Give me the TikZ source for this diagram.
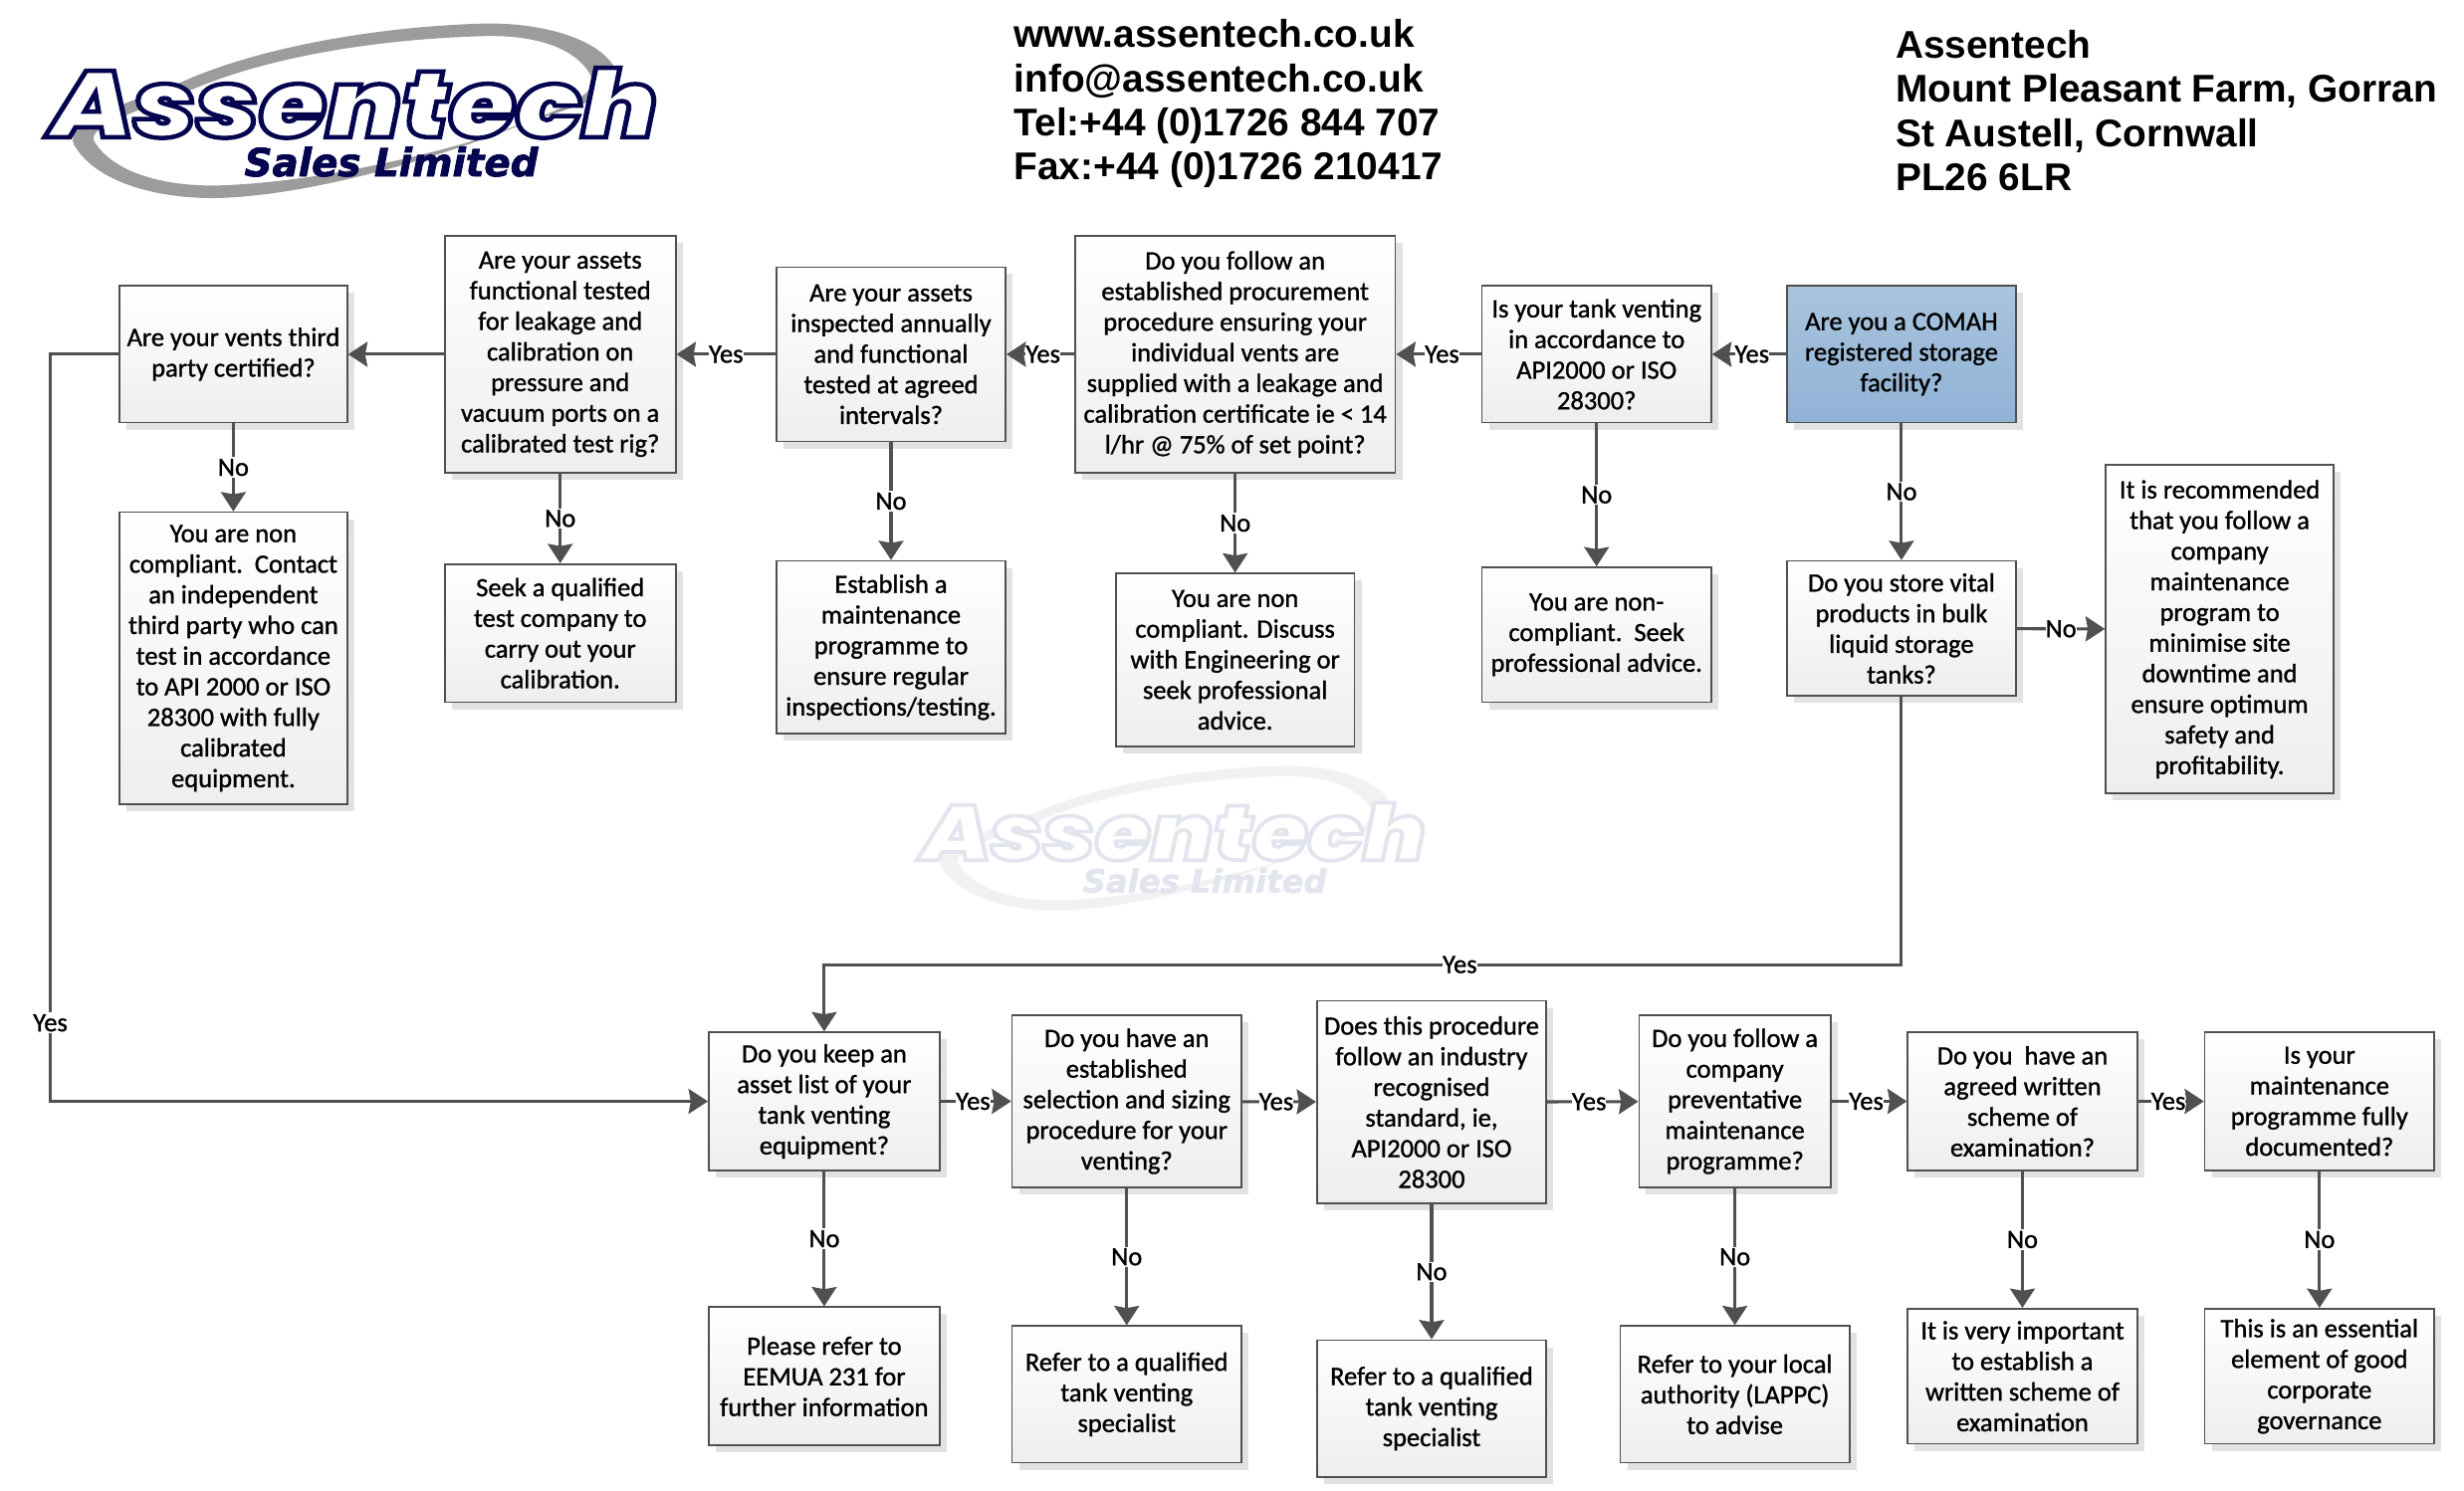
\documentclass[tikz,border=0pt]{standalone}
\usepackage{fontspec}
\setmainfont[FakeBold=1.1]{Carlito}
\newfontfamily\headfont{Liberation Sans}
\newfontface\logofont{Poppins Black Italic}
\newfontface\logosmall[FakeBold=2]{DejaVu Sans Bold Oblique}
\usetikzlibrary{positioning}
\usetikzlibrary{shadows}
\usetikzlibrary{arrows.meta}
\definecolor{linegray}{HTML}{505050}
\definecolor{boxgray}{HTML}{EEEEEE}
\definecolor{shadowgray}{HTML}{E2E2E2}
\definecolor{comahtop}{HTML}{A9C4DE}
\definecolor{comahbot}{HTML}{90B2D5}
\definecolor{logonavy}{HTML}{04044F}
\definecolor{logoswoosh}{HTML}{9C9C9C}
\definecolor{marknavy}{HTML}{E3E5EE}
\definecolor{markswoosh}{HTML}{F1F1F4}

% text with a stroked outline, the stroke colour as three numbers
\newcommand{\outlined}[2]{\special{pdf:code q 2 Tr 1.6 w #1 RG}#2\special{pdf:code Q}}

% the logo, drawn in the coordinates of the page
\newcommand{\logomark}[4]{%
  \begin{scope}[#1]
    \fill[#3, even odd rule] (47,92) .. controls (62,118) and (105,127) .. (140,126)
      .. controls (200,124) and (280,100) .. (330,80)
      .. controls (370,66) and (398,60) .. (393,47)
      .. controls (385,25) and (345,14) .. (307,15)
      .. controls (240,17) and (165,30) .. (116,52)
      .. controls (85,64) and (40,78) .. (47,92) -- cycle
      (60,90) .. controls (72,110) and (105,119) .. (140,118)
      .. controls (200,116) and (265,100) .. (300,90)
      .. controls (340,76) and (385,62) .. (376,48)
      .. controls (366,30) and (340,22) .. (307,23)
      .. controls (240,25) and (170,36) .. (120,58)
      .. controls (90,70) and (55,80) .. (60,90) -- cycle;
    \node[transform shape, xscale=1.155, text=white, font=\logofont\fontsize{34}{34}\selectfont] (markname) at (225,65.5) {\outlined{#4}{Assentech}};
    \node[transform shape, text=#2, font=\logosmall\fontsize{14}{15}\selectfont] (marksales) at (249,103) {Sales Limited};
  \end{scope}}

\tikzset{
  flowbox/.style = {draw=linegray, line width=0.6pt, align=center, inner sep=0pt,
    top color=white, bottom color=boxgray,
    drop shadow={shadow xshift=0.09cm, shadow yshift=-0.09cm, fill=shadowgray, opacity=1},
    font=\fontsize{9.55}{11.1}\selectfont, text=black},
  comahbox/.style = {flowbox, top color=comahtop, bottom color=comahbot},
  link/.style = {draw=linegray, line width=1.1pt, -{Stealth[length=7pt,width=9pt,inset=0.8pt]}},
  lab/.style = {fill=white, inner xsep=0pt, inner ysep=0.6pt, font=\fontsize{9.55}{11}\selectfont, text=black},
  yeslab/.style = {lab, pos=0.46},
  headtext/.style = {anchor=west, align=left, inner sep=0pt, font=\headfont\bfseries\fontsize{14}{16}\selectfont, text=black}
}

\begin{document}
\begin{tikzpicture}[x=0.02cm, y=-0.02cm]
  \useasboundingbox (0,0) rectangle (1568,948.9);

  \logomark{}{logonavy}{logoswoosh}{0.016 0.016 0.31}
  \logomark{shift={(560,475)}, scale=0.83}{marknavy}{markswoosh}{0.89 0.898 0.933}

  \node[headtext] (contact) at (645,66) {www.assentech.co.uk\\info@assentech.co.uk\\Tel:+44 (0)1726 844 707\\Fax:+44 (0)1726 210417};
  \node[headtext] (address) at (1206,70.5) {Assentech\\Mount Pleasant Farm, Gorran\\St Austell, Cornwall\\PL26 6LR};

  % top row
  \node[comahbox, minimum width=2.92cm, minimum height=1.74cm] (comah) at (1210,225.5) {Are you a COMAH\\registered storage\\facility?};
  \node[flowbox, minimum width=2.92cm, minimum height=1.74cm] (venting) at (1016,225.5) {Is your tank venting\\in accordance to\\API2000 or ISO\\28300?};
  \node[flowbox, minimum width=4.08cm, minimum height=3.02cm] (procure) at (786,225.5) {Do you follow an\\established procurement\\procedure ensuring your\\individual vents are\\supplied with a leakage and\\calibration certificate ie < 14\\l/hr @ 75\% of set point?};
  \node[flowbox, minimum width=2.92cm, minimum height=2.22cm] (inspect) at (567,225.5) {Are your assets\\inspected annually\\and functional\\tested at agreed\\intervals?};
  \node[flowbox, minimum width=2.94cm, minimum height=3.02cm] (rig) at (356.5,225.5) {Are your assets\\functional tested\\for leakage and\\calibration on\\pressure and\\vacuum ports on a\\calibrated test rig?};
  \node[flowbox, minimum width=2.9cm, minimum height=1.74cm] (third) at (148.5,225.5) {Are your vents third\\party certified?};

  % answers of the top row
  \node[flowbox, minimum width=2.9cm, minimum height=3.72cm] (contactthird) at (148.5,419) {You are non\\compliant.\ \ Contact\\an independent\\third party who can\\test in accordance\\to API 2000 or ISO\\28300 with fully\\calibrated\\equipment.};
  \node[flowbox, minimum width=2.94cm, minimum height=1.76cm] (seektest) at (356.5,403) {Seek a qualified\\test company to\\carry out your\\calibration.};
  \node[flowbox, minimum width=2.92cm, minimum height=2.2cm] (programme) at (567,412) {Establish a\\maintenance\\programme to\\ensure regular\\inspections/testing.};
  \node[flowbox, minimum width=3.04cm, minimum height=2.2cm] (discuss) at (786,420) {You are non\\compliant. Discuss\\with Engineering or\\seek professional\\advice.};
  \node[flowbox, minimum width=2.92cm, minimum height=1.72cm] (advice) at (1016,404) {You are non-\\compliant.\ \ Seek\\professional advice.};
  \node[flowbox, minimum width=2.92cm, minimum height=1.72cm] (store) at (1210,400) {Do you store vital\\products in bulk\\liquid storage\\tanks?};
  \node[flowbox, minimum width=2.9cm, minimum height=4.18cm] (recommend) at (1412.5,400.5) {It is recommended\\that you follow a\\company\\maintenance\\program to\\minimise site\\downtime and\\ensure optimum\\safety and\\profitability.};

  % lower row
  \node[flowbox, minimum width=2.94cm, minimum height=1.76cm] (asset) at (524.5,701) {Do you keep an\\asset list of your\\tank venting\\equipment?};
  \node[flowbox, minimum width=2.92cm, minimum height=2.2cm] (sizing) at (717,701) {Do you have an\\established\\selection and sizing\\procedure for your\\venting?};
  \node[flowbox, minimum width=2.92cm, minimum height=2.58cm] (standard) at (911,701.5) {Does this procedure\\follow an industry\\recognised\\standard, ie,\\API2000 or ISO\\28300};
  \node[flowbox, minimum width=2.44cm, minimum height=2.2cm] (prevent) at (1104,701) {Do you follow a\\company\\preventative\\maintenance\\programme?};
  \node[flowbox, minimum width=2.92cm, minimum height=1.76cm] (scheme) at (1287,701) {Do you\ \ have an\\agreed written\\scheme of\\examination?};
  \node[flowbox, minimum width=2.92cm, minimum height=1.76cm] (documented) at (1476,701) {Is your\\maintenance\\programme fully\\documented?};

  % answers of the lower row
  \node[flowbox, minimum width=2.94cm, minimum height=1.76cm] (eemua) at (524.5,876) {Please refer to\\EEMUA 231 for\\further information};
  \node[flowbox, minimum width=2.92cm, minimum height=1.74cm] (specone) at (717,887.5) {Refer to a qualified\\tank venting\\specialist};
  \node[flowbox, minimum width=2.92cm, minimum height=1.74cm] (spectwo) at (911,896.5) {Refer to a qualified\\tank venting\\specialist};
  \node[flowbox, minimum width=2.92cm, minimum height=1.74cm] (authority) at (1104,887.5) {Refer to your local\\authority (LAPPC)\\to advise};
  \node[flowbox, minimum width=2.92cm, minimum height=1.72cm] (written) at (1287,876) {It is very important\\to establish a\\written scheme of\\examination};
  \node[flowbox, minimum width=2.92cm, minimum height=1.72cm] (governance) at (1476,876) {This is an essential\\element of good\\corporate\\governance};

  % bends
  \coordinate (storedown) at (1210,614);
  \coordinate (assetup) at (524.5,614);
  \coordinate (thirdleft) at (32,225.5);
  \coordinate (assetleft) at (32,701);

  \draw[link] (comah) -- node[yeslab] {Yes} (venting);
  \draw[link] (venting) -- node[yeslab] {Yes} (procure);
  \draw[link] (procure) -- node[yeslab] {Yes} (inspect);
  \draw[link] (inspect) -- node[lab] {Yes} (rig);
  \draw[link] (rig) -- (third);
  \draw[link] (third) -- node[lab] {No} (contactthird);
  \draw[link] (rig) -- node[lab] {No} (seektest);
  \draw[link] (inspect) -- node[lab] {No} (programme);
  \draw[link] (procure) -- node[lab] {No} (discuss);
  \draw[link] (venting) -- node[lab] {No} (advice);
  \draw[link] (comah) -- node[lab] {No} (store);
  \draw[link] (store) -- node[lab] {No} (recommend);
  \draw[link] (store) -- (storedown) -- node[lab, pos=0.41] {Yes} (assetup) -- (asset);
  \draw[link] (third) -- (thirdleft) -- node[lab, pos=0.895] {Yes} (assetleft) -- (asset);
  \draw[link] (asset) -- node[yeslab] {Yes} (sizing);
  \draw[link] (sizing) -- node[yeslab] {Yes} (standard);
  \draw[link] (standard) -- node[yeslab] {Yes} (prevent);
  \draw[link] (prevent) -- node[yeslab] {Yes} (scheme);
  \draw[link] (scheme) -- node[yeslab] {Yes} (documented);
  \draw[link] (asset) -- node[lab] {No} (eemua);
  \draw[link] (sizing) -- node[lab] {No} (specone);
  \draw[link] (standard) -- node[lab] {No} (spectwo);
  \draw[link] (prevent) -- node[lab] {No} (authority);
  \draw[link] (scheme) -- node[lab] {No} (written);
  \draw[link] (documented) -- node[lab] {No} (governance);
\end{tikzpicture}
\end{document}
